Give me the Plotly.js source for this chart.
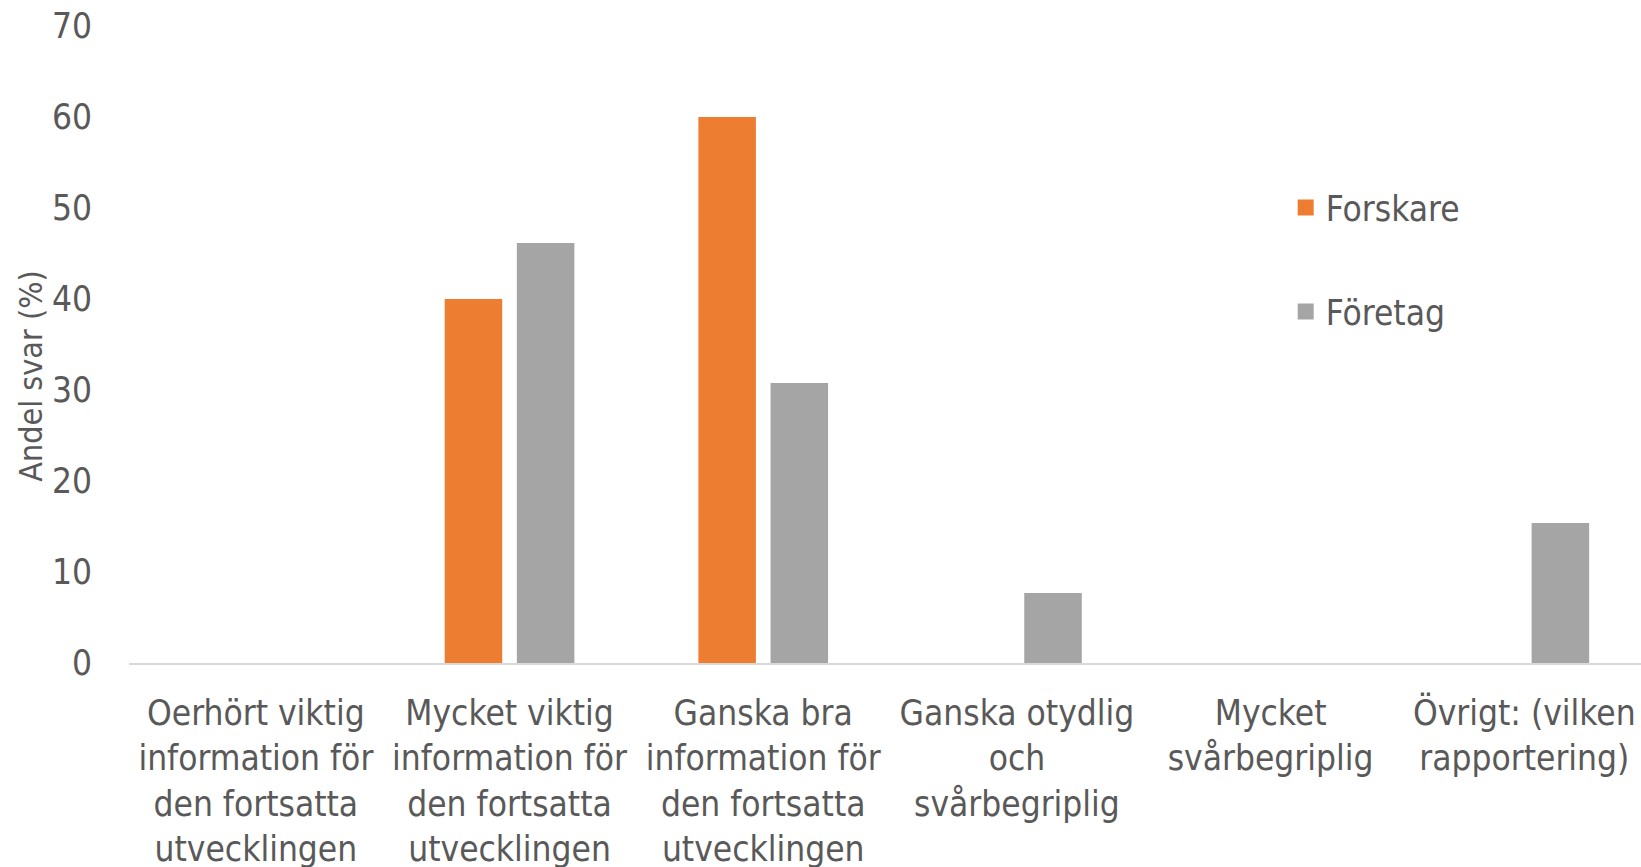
<!DOCTYPE html>
<html>
<head>
<meta charset="utf-8">
<script src="https://cdn.plot.ly/plotly-3.0.1.min.js"></script>
<style>html,body{margin:0;padding:0;background:#fff;}#chart{width:1641px;height:867px;}</style>
</head>
<body>
<div id="chart"></div>
<script>
const categories = [
  "Oerhört viktig<br>information för<br>den fortsatta<br>utvecklingen",
  "Mycket viktig<br>information för<br>den fortsatta<br>utvecklingen",
  "Ganska bra<br>information för<br>den fortsatta<br>utvecklingen",
  "Ganska otydlig<br>och<br>svårbegriplig",
  "Mycket<br>svårbegriplig",
  "Övrigt: (vilken<br>rapportering)"
];
const forskare = [0, 40, 60, 0, 0, 0];
const foretag = [0, 46.15, 30.77, 7.69, 0, 15.38];
const yTicks = [0, 10, 20, 30, 40, 50, 60, 70];
const seriesNames = ['Forskare', 'Företag'];
const seriesColors = ['#ED7D31', '#A5A5A5'];

const FONT = "'Liberation Sans Narrow', 'DejaVu Sans Condensed', sans-serif";
const TXT = '#595959';

const traces = [
  {type: 'bar', name: seriesNames[0], x: categories, y: forskare,
   marker: {color: seriesColors[0], line: {width: 0}}, showlegend: false, hoverinfo: 'y'},
  {type: 'bar', name: seriesNames[1], x: categories, y: foretag,
   marker: {color: seriesColors[1], line: {width: 0}}, showlegend: false, hoverinfo: 'y'},
  // legend-only entries (larger square swatches)
  {type: 'scatter', mode: 'markers', name: seriesNames[0], x: [null], y: [null],
   marker: {symbol: 'square', size: 16, color: seriesColors[0]}, legend: 'legend', hoverinfo: 'skip'},
  {type: 'scatter', mode: 'markers', name: seriesNames[1], x: [null], y: [null],
   marker: {symbol: 'square', size: 16, color: seriesColors[1]}, legend: 'legend2', hoverinfo: 'skip'}
];

const layout = {
  width: 1641, height: 867,
  margin: {l: 129, r: 0, t: 26, b: 203.5, pad: 0},
  paper_bgcolor: '#fff', plot_bgcolor: '#fff',
  font: {family: FONT, color: TXT, size: 35},
  barmode: 'group', bargap: 0.431, bargroupgap: 0.203,
  showlegend: true,
  legend: {x: 0.765, y: 0.7145, xanchor: 'left', yanchor: 'middle', font: {size: 35, color: TXT}, bgcolor: 'rgba(0,0,0,0)'},
  legend2: {x: 0.765, y: 0.5514, xanchor: 'left', yanchor: 'middle', font: {size: 35, color: TXT}, bgcolor: 'rgba(0,0,0,0)'},
  xaxis: {
    type: 'category', range: [-0.5, 5.46],
    showline: true, linecolor: '#D9D9D9', linewidth: 1.5,
    showgrid: false, zeroline: false, ticks: '',
    tickfont: {size: 35, color: TXT}, ticklabelstandoff: 18, automargin: false
  },
  yaxis: {
    range: [0, 70], tickvals: yTicks, ticktext: yTicks.map(String),
    showline: false, showgrid: false, zeroline: false, ticks: '',
    tickfont: {size: 35, color: TXT}, ticklabelstandoff: 36, automargin: false
  },
  annotations: [{
    text: 'Andel svar (%)', textangle: -90, xref: 'paper', yref: 'paper',
    x: -0.0648, y: 0.451, xanchor: 'center', yanchor: 'middle', showarrow: false,
    font: {size: 32, color: TXT}
  }]
};

Plotly.newPlot('chart', traces, layout, {displayModeBar: false, staticPlot: true});
</script>
</body>
</html>
